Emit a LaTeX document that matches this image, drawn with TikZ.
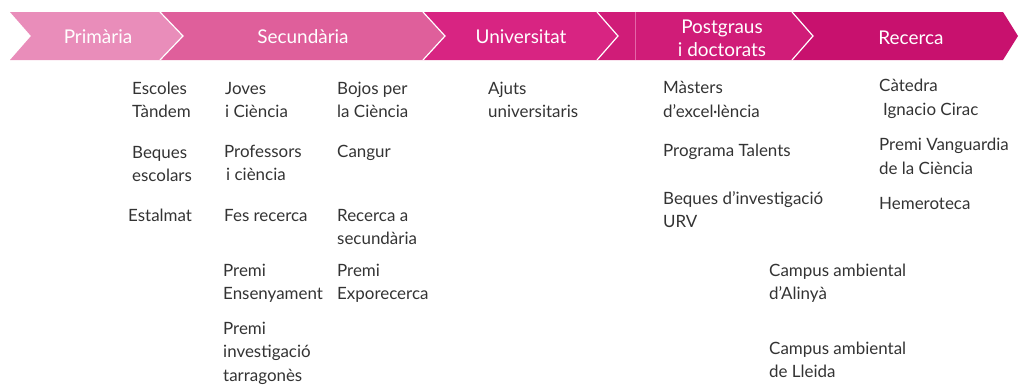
\documentclass[tikz,border=0pt]{standalone}
\usepackage{fontspec}
\setmainfont{Lato}
\definecolor{primcol}{HTML}{E98DBA}
\definecolor{secucol}{HTML}{DF5F9B}
\definecolor{univcol}{HTML}{D82482}
\definecolor{postcol}{HTML}{D01C78}
\definecolor{rececol}{HTML}{C8116E}
\definecolor{textgray}{HTML}{333333}
\tikzset{
  stage/.style={font=\fontsize{19}{23}\selectfont, text=white, align=center},
  item/.style={font=\fontsize{17}{23.5}\selectfont, text=textgray, align=left, anchor=base west, inner sep=0pt},
  divider/.style={white, line width=1.2pt}
}
\begin{document}
\begin{tikzpicture}[x=1bp, y=-1bp]
\useasboundingbox (0,0) rectangle (1019,385);
% stages bar
\fill[primcol] (10,12) -- (160,12) -- (183,36) -- (160,60) -- (10,60) -- (31,36) -- cycle;
\fill[secucol] (160,12) -- (423,12) -- (445,36) -- (423,60) -- (160,60) -- (183,36) -- cycle;
\fill[univcol] (423,12) -- (597,12) -- (618,36) -- (597,60) -- (423,60) -- (445,36) -- cycle;
\fill[postcol] (597,12) -- (792,12) -- (813,36) -- (792,60) -- (597,60) -- (618,36) -- cycle;
\fill[rececol] (792,12) -- (1003,12) -- (1018,36) -- (1003,60) -- (792,60) -- (813,36) -- cycle;
\draw[divider] (160,12) -- (183,36) -- (160,60);
\draw[divider] (423,12) -- (445,36) -- (423,60);
\draw[divider] (597,12) -- (618,36) -- (597,60);
\draw[divider] (792,12) -- (813,36) -- (792,60);
\draw[univcol!70!white, line width=0.6pt] (635,12) -- (635,60);

\node[stage] (prim) at (98,37) {Primària};
\node[stage] (secu) at (303,37) {Secundària};
\node[stage] (univ) at (521,37) {Universitat};
\node[stage] (post) at (722,38) {Postgraus\\i doctorats};
\node[stage] (rece) at (911,38) {Recerca};

% primaria (anchored on the last line)
\node[item] (tandem) at (132,117.5) {Escoles\\Tàndem};
\node[item] (beques) at (132,181.5) {Beques\\escolars};
\node[item] (estalmat) at (128,221) {Estalmat};
% secundaria
\node[item] (joves) at (225,117.5) {Joves\\i Ciència};
\node[item] (profes) at (224,180.5) {Professors\\\hspace*{2bp}i ciència};
\node[item] (fes) at (224,221) {Fes recerca};
\node[item] (ensenya) at (223,299.5) {Premi\\Ensenyament};
\node[item] (tarrag) at (223,381) {Premi\\investigació\\tarragonès};
\node[item] (bojos) at (337,117.5) {Bojos per\\la Ciència};
\node[item] (cangur) at (337,157) {Cangur};
\node[item] (recsec) at (337,244.5) {Recerca a\\secundària};
\node[item] (expo) at (337,299.5) {Premi\\Exporecerca};
% universitat
\node[item] (ajuts) at (488,117.5) {Ajuts\\universitaris};
% postgraus
\node[item] (masters) at (663,117) {Màsters\\d’excel·lència};
\node[item] (talents) at (663,156) {Programa Talents};
\node[item] (urv) at (663,227.5) {Beques d’investigació\\URV};
% recerca
\node[item] (catedra) at (879,115) {Càtedra\\\hspace*{4bp}Ignacio Cirac};
\node[item] (vangu) at (879,174) {Premi Vanguardia\\de la Ciència};
\node[item] (hemero) at (879,209) {Hemeroteca};
\node[item] (alinya) at (769,299.5) {Campus ambiental\\d’Alinyà};
\node[item] (lleida) at (769,377.5) {Campus ambiental\\de Lleida};
\end{tikzpicture}
\end{document}
